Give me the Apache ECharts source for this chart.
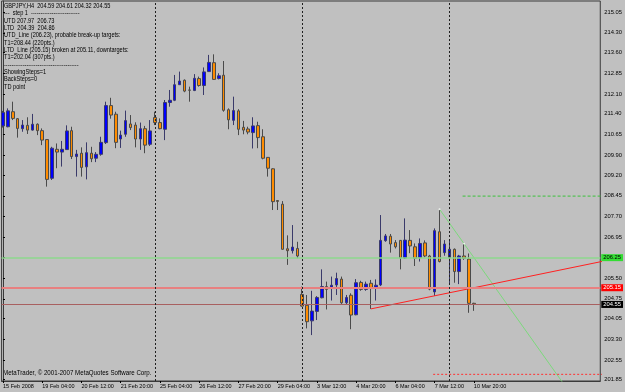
<!DOCTYPE html>
<html><head><meta charset="utf-8">
<script src="https://cdn.jsdelivr.net/npm/echarts@6/dist/echarts.min.js"></script>
<style>html,body{margin:0;padding:0;background:#C0C0C0;}#c{width:625px;height:392px;}</style>
</head><body><div id="c"></div>
<script>
// H4 bars, index 0 = 15 Feb 2008 20:00
const opens = [210.96,210.93,211.47,211.22,210.86,210.98,210.81,211.02,210.79,210.47,
 209.08,210.12,210.02,210.11,210.79,209.86,209.98,209.49,209.98,209.80,
 209.94,210.36,211.69,211.38,210.49,210.66,211.03,210.99,210.49,210.86,
 210.30,211.26,211.08,210.84,211.80,211.88,212.44,212.60,212.25,212.23,
 212.66,212.41,212.91,213.23,212.66,212.78,211.54,211.16,211.50,210.91,
 210.85,210.72,210.97,210.57,209.83,209.42,208.28,208.15,206.55,206.48,
 206.56,204.91,204.52,203.96,204.30,204.79,205.19,205.13,205.25,205.46,
 204.61,204.88,204.18,205.34,205.09,205.31,205.14,205.25,206.84,207.00,
 206.77,206.85,206.22,206.85,206.62,206.23,206.76,206.29,205.00,207.16,
 206.41,206.23,206.53,205.73,206.29,206.18,204.59];
const highs = [211.50,211.59,211.83,211.24,211.17,211.27,211.39,211.05,210.87,210.48,
 210.21,210.33,210.42,210.98,210.93,210.10,210.19,210.37,210.21,210.02,
 210.57,211.83,211.97,211.47,210.79,211.51,211.35,211.09,211.08,210.96,
 211.17,211.47,211.23,211.89,212.25,212.79,212.91,212.63,212.37,212.82,
 212.73,213.06,213.51,213.53,212.85,213.29,211.59,212.01,211.56,211.14,
 210.93,211.27,211.11,210.84,209.84,209.44,208.28,208.26,207.03,207.40,
 206.80,205.19,204.89,205.04,204.85,205.81,205.37,205.55,205.69,205.55,
 204.89,204.95,205.46,205.40,205.37,205.43,205.45,207.76,207.08,207.08,
 206.86,206.86,207.64,207.22,206.74,206.92,206.85,206.33,207.28,207.97,
 206.86,206.84,206.56,206.33,206.73,206.38,204.61];
const lows = [210.90,210.91,211.17,210.54,210.75,210.67,210.79,210.63,210.27,208.78,
 209.02,209.44,209.50,210.10,209.77,209.14,209.14,209.04,209.66,209.66,
 209.89,210.31,211.22,210.16,210.17,210.57,210.81,210.19,210.10,209.98,
 210.24,210.99,210.84,210.45,211.65,211.85,212.43,212.17,211.83,212.21,
 212.37,212.07,212.90,212.61,212.63,211.47,210.84,210.99,210.63,210.66,
 210.66,210.15,210.16,209.76,209.14,207.94,207.94,206.52,205.97,206.38,
 206.21,204.47,203.69,203.45,203.99,204.77,204.37,204.69,204.89,204.57,
 204.53,203.66,204.16,205.04,205.04,204.39,204.69,205.21,206.80,206.41,
 206.56,205.81,206.19,206.39,205.93,206.09,206.24,205.06,204.86,206.06,
 206.30,205.31,205.33,205.28,206.15,204.25,204.32];
const closes = [211.44,211.50,211.23,210.87,210.99,210.81,211.02,210.79,210.45,209.04,
 210.16,210.02,210.12,210.78,209.86,209.95,209.47,210.00,209.78,209.94,
 210.37,211.69,211.35,210.37,210.63,211.15,210.90,210.49,210.86,210.27,
 210.78,211.08,210.86,211.80,211.88,212.44,212.57,212.21,212.24,212.67,
 212.41,212.90,213.24,212.63,212.76,211.52,211.18,211.51,210.84,210.81,
 210.74,210.96,210.54,209.80,209.44,208.24,208.25,206.53,206.48,206.61,
 206.29,204.49,203.93,204.31,204.80,205.19,205.09,205.24,205.48,204.61,
 204.80,204.17,205.33,205.09,205.28,205.12,205.24,206.85,207.01,206.72,
 206.62,206.22,206.86,206.65,206.21,206.74,206.29,205.10,207.20,206.09,
 206.72,206.53,205.73,206.29,206.21,204.59,204.55];

const xTickBars = [0,8,16,24,32,40,48,56,64,72,80,88,96];
const xTickLabels = ["15 Feb 2008","19 Feb 04:00","20 Feb 12:00","21 Feb 20:00","25 Feb 04:00","26 Feb 12:00","27 Feb 20:00","29 Feb 04:00","3 Mar 12:00","4 Mar 20:00","6 Mar 04:00","7 Mar 12:00","10 Mar 20:00"];
const yTickLabels = ["201.85","202.55","203.30","204.05","204.75","205.50","206.25","206.95","207.70","208.45","209.20","209.90","210.65","211.40","212.10","212.85","213.60","214.30","215.05"];
const separatorBars = [31,61,91];

const upperTD = [[89,207.97],[94,206.73]];
const lowerTD = [[75,204.39],[88,204.86]];
const utdLevel = 206.23, ltdLevel = 205.15, lastClose = 204.55;
const utdTag = "206.25", ltdTag = "205.15", bidTag = "204.55";
const upTarget = 208.44, downTarget = 202.04;

const infoLines = [
 "GBPJPY,H4  204.59 204.61 204.32 204.55",
 "---  step 1  --------------------------",
 "UTD 207.97  206.73",
 "LTD  204.39  204.86",
 "UTD_Line (206.23), probable break-up targets:",
 "T1=208.44 (220pts.)",
 "LTD_Line (205.15) broken at 205.11, downtargets:",
 "T1=202.04 (307pts.)",
 "----------------------------------------",
 "ShowingSteps=1",
 "BackSteps=0",
 "TD point"
];
const copyright = "MetaTrader, \u00A9 2001-2007 MetaQuotes Software Corp.";

const FONT = "'Liberation Sans',Arial,sans-serif";
const xMin = -0.285, xMax = 121.77, yMin = 201.801, yMax = 215.445;

const candleData = opens.map((o,i)=>[i, o, closes[i], lows[i], highs[i]]);
function ray(p1, p2, toX){
  const s = (p2[1]-p1[1])/(p2[0]-p1[0]);
  return [p1, p2, [toX, p1[1] + s*(toX - p1[0])]];
}

const chart = echarts.init(document.getElementById('c'), null, {renderer:'canvas'});
const graphics = infoLines.map((t,i)=>({
  type:'text', x:4, y:5.8 + 7.32*i, scaleX:0.7, silent:true,
  style:{text:t, fill:'#000', font:'8px '+FONT, verticalAlign:'middle'}
}));
graphics.push({type:'text', x:3, y:373, scaleX:0.77, silent:true,
  style:{text:copyright, fill:'#000', font:'8px '+FONT, verticalAlign:'middle'}});

chart.setOption({
  animation:false,
  backgroundColor:'#C0C0C0',
  grid:{left:1, right:24, top:1, bottom:11, show:true, backgroundColor:'#C0C0C0', borderColor:'#3a3a3a', borderWidth:1},
  xAxis:{type:'value', min:xMin, max:xMax,
    axisLine:{show:true, lineStyle:{color:'#3a3a3a'}},
    splitLine:{show:false},
    axisTick:{show:true, customValues:xTickBars, length:2, lineStyle:{color:'#000'}},
    axisLabel:{customValues:xTickBars, align:'left', margin:2, color:'#000', fontSize:5.5, fontFamily:FONT,
      formatter:v=>xTickLabels[xTickBars.indexOf(Math.round(v))]}},
  yAxis:{type:'value', position:'right', min:yMin, max:yMax, scale:true,
    axisLine:{show:true, lineStyle:{color:'#3a3a3a'}},
    splitLine:{show:false},
    axisTick:{show:true, customValues:yTickLabels.map(Number), length:2, lineStyle:{color:'#000'}},
    axisLabel:{customValues:yTickLabels.map(Number).filter(v=>Math.abs(v-utdLevel)>0.05),
      margin:4, color:'#000', fontSize:5.8, fontFamily:FONT, formatter:v=>v.toFixed(2)}},
  graphic:graphics,
  series:[
    {type:'line', data:[], silent:true, z:1,
     markLine:{silent:true, symbol:'none', animation:false,
       data:[
        {yAxis:utdLevel, lineStyle:{color:'#8ED88E', width:1.5, type:'solid'},
         label:{show:true, position:'end', distance:1, formatter:utdTag, backgroundColor:'#33DD33', color:'#000', padding:[1,2,0,2], fontSize:5.8, fontFamily:FONT}},
        {yAxis:ltdLevel, lineStyle:{color:'#E88080', width:2, type:'solid'},
         label:{show:true, position:'end', distance:1, formatter:ltdTag, backgroundColor:'#FF0000', color:'#fff', padding:[1,2,0,2], fontSize:5.8, fontFamily:FONT}},
        {yAxis:lastClose, lineStyle:{color:'#A86060', width:1, type:'solid'},
         label:{show:true, position:'end', distance:1, formatter:bidTag, backgroundColor:'#000', color:'#fff', padding:[1,2,0,2], fontSize:5.8, fontFamily:FONT}},
        ...separatorBars.map(b=>({xAxis:b, lineStyle:{color:'#202020', width:1, type:[2,2]}, label:{show:false}}))
       ]}},
    {type:'candlestick', data:candleData, barWidth:3, z:3,
     itemStyle:{color:'#0000FF', color0:'#FF8C00', borderColor:'#3a3a6a', borderColor0:'#4a4a4a', borderWidth:1}},
    {type:'line', data:ray(upperTD[0], upperTD[1], xMax+20), symbol:'none', clip:true, z:4,
     lineStyle:{color:'#7CD87C', width:1}},
    {type:'line', data:ray(lowerTD[0], lowerTD[1], xMax+20), symbol:'none', clip:true, z:4,
     lineStyle:{color:'#FF2020', width:1}},
    {type:'line', data:[[upperTD[1][0]-0.3, upTarget],[xMax+5, upTarget]], symbol:'none', clip:true, z:4,
     lineStyle:{color:'#3CC03C', width:1, type:[3,2]}},
    {type:'line', data:[[lowerTD[1][0]-0.3, downTarget],[xMax+5, downTarget]], symbol:'none', clip:true, z:4,
     lineStyle:{color:'#FF3030', width:1, type:[2,2]}},
    {type:'scatter', data:upperTD, symbolSize:2, z:5, itemStyle:{color:'#FFFFFF'}}
  ]
});
</script></body></html>
